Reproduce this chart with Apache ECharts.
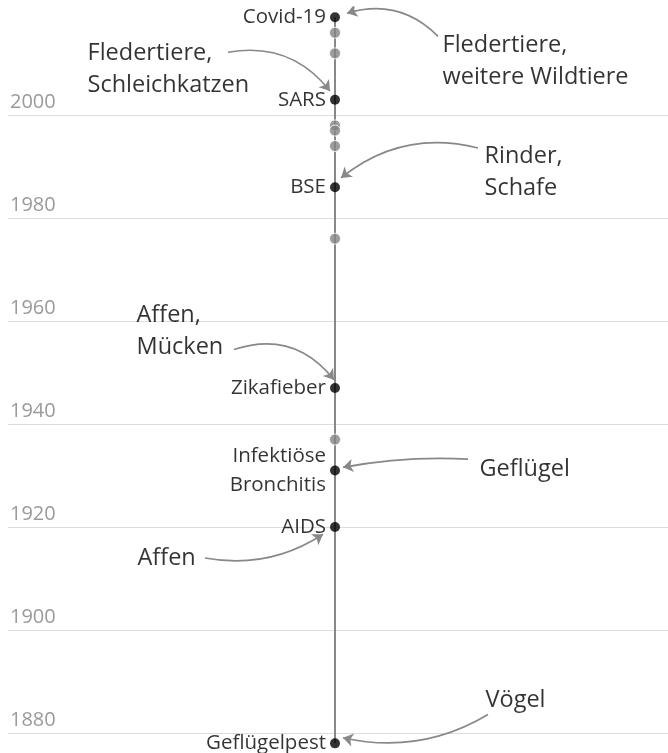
<!DOCTYPE html>
<html>
<head>
<meta charset="utf-8">
<script src="https://cdn.jsdelivr.net/npm/echarts@6/dist/echarts.min.js"></script>
<style>
  html, body { margin: 0; padding: 0; background: #fff; }
  #main { width: 668px; height: 753px; }
</style>
</head>
<body>
<div id="main"></div>
<script>
// Zoonosen: Jahr des ersten Auftretens
const eventNames = ['Covid-19', 'SARS', 'BSE', 'Zikafieber', 'Infektiöse\nBronchitis', 'AIDS', 'Geflügelpest'];
const eventYears = [2019, 2003, 1986, 1947, 1931, 1920, 1878];
const minorYears = [2016, 2012, 1998, 1997, 1994, 1976, 1937];
const yearTicks = [1880, 1900, 1920, 1940, 1960, 1980, 2000];

// Herkunft (Tiere) je Ereignis
const hostTexts = [
  'Fledertiere,\nweitere Wildtiere',
  'Fledertiere,\nSchleichkatzen',
  'Rinder,\nSchafe',
  'Affen,\nMücken',
  'Geflügel',
  'Affen',
  'Vögel'
];
const hostEvent = [0, 1, 2, 3, 4, 5, 6];

// layout (x in px, y in years) for labels and arrows
const LINE_X = 335;
const hostLayout = [
  { tx: 442, ty: 2010.4, from: [438, 2015.3], to: [347, 2019.8], curve: -0.3 },
  { tx: 87,  ty: 2008.9, from: [228, 2012.2], to: [330, 2004.7], curve: 0.3 },
  { tx: 484, ty: 1988.9, from: [478, 1993.6], to: [341, 1987.8], curve: -0.25 },
  { tx: 136, ty: 1958.0, from: [234, 1954.5], to: [334, 1948.6], curve: 0.35 },
  { tx: 479, ty: 1931.2, from: [468, 1933.2], to: [343, 1931.6], curve: -0.06 },
  { tx: 137, ty: 1914.0, from: [205, 1914.0], to: [323, 1918.6], curve: -0.2 },
  { tx: 485, ty: 1886.4, from: [488, 1883.6], to: [343, 1879.1], curve: 0.2 }
];

const FONT = '"Open Sans", "Noto Sans", sans-serif';
const chart = echarts.init(document.getElementById('main'));

const option = {
  animation: false,
  grid: { left: 0, right: 0, top: 7, bottom: 4.5 },
  xAxis: { type: 'value', min: 0, max: 668, show: false },
  yAxis: { type: 'value', min: 1877, max: 2021, show: false },
  series: [
    {
      // timeline + year gridlines
      type: 'line',
      data: [[LINE_X, Math.min(...eventYears)], [LINE_X, Math.max(...eventYears)]],
      symbol: 'none',
      silent: true,
      z: 1,
      lineStyle: { color: '#888', width: 2 },
      markLine: {
        silent: true,
        symbol: 'none',
        z: 0,
        lineStyle: { color: '#dcdcdc', width: 1, type: 'solid' },
        label: {
          position: 'insideStartTop',
          distance: [2, 3],
          color: '#9a9a9a',
          fontFamily: FONT,
          fontSize: 20,
          formatter: p => p.data.year
        },
        data: yearTicks.map(y => [
          { coord: [8, y], year: y },
          { coord: [668, y] }
        ])
      }
    },
    {
      type: 'scatter',
      data: minorYears.map(y => [LINE_X, y]),
      symbolSize: 11,
      itemStyle: { color: '#858585', borderColor: '#fff', borderWidth: 1 },
      silent: true,
      z: 2
    },
    {
      type: 'scatter',
      data: eventYears.map((y, i) => ({ value: [LINE_X, y], name: eventNames[i] })),
      symbolSize: 10,
      itemStyle: { color: '#000' },
      silent: true,
      z: 3,
      label: {
        show: true,
        position: 'left',
        distance: 4,
        color: '#000',
        fontFamily: FONT,
        fontSize: 20.5,
        lineHeight: 29,
        formatter: p => p.name
      }
    },
    {
      // host annotations
      type: 'scatter',
      data: hostTexts.map((t, i) => ({ value: [hostLayout[i].tx, hostLayout[i].ty], name: t })),
      symbolSize: 1,
      itemStyle: { color: 'transparent' },
      silent: true,
      label: {
        show: true,
        position: 'right',
        distance: 0,
        color: '#000',
        fontFamily: FONT,
        fontSize: 23.5,
        lineHeight: 32,
        formatter: p => p.name
      }
    },
    {
      type: 'lines',
      coordinateSystem: 'cartesian2d',
      silent: true,
      z: 4,
      symbol: ['none', 'arrow'],
      symbolSize: [0, 10],
      lineStyle: { color: '#888', width: 1.6, opacity: 1 },
      data: hostEvent.map((e, i) => ({
        coords: [hostLayout[i].from, hostLayout[i].to],
        lineStyle: { curveness: hostLayout[i].curve }
      }))
    }
  ]
};

chart.setOption(option);
</script>
</body>
</html>
